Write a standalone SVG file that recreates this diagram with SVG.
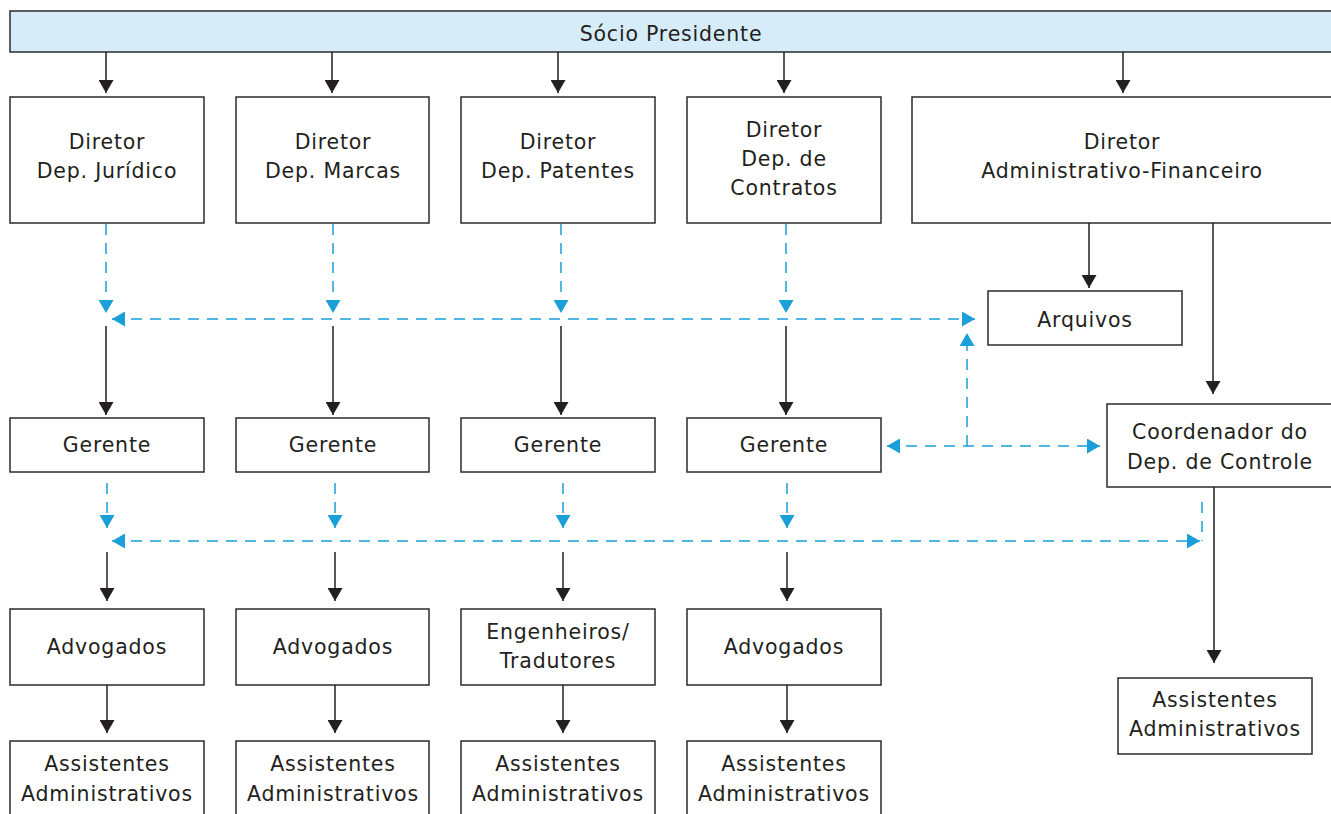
<svg xmlns="http://www.w3.org/2000/svg" width="1331" height="814" viewBox="0 0 1331 814">
<style>
  .box{fill:#fff;stroke:#2b2b2b;stroke-width:1.5}
  .top{fill:#d6ecf8;stroke:#2b2b2b;stroke-width:1.5}
  text{font-family:"DejaVu Sans","Liberation Sans",sans-serif;font-size:20.5px;fill:#231f20;text-anchor:middle;letter-spacing:0.8px}
  .ln{stroke:#231f20;stroke-width:1.5;fill:none}
  .dl{stroke:#1a9fd9;stroke-width:1.5;fill:none;stroke-dasharray:11 8}
</style>
<defs>
  <marker id="ab" viewBox="0 0 13 15" refX="13" refY="7.5" markerWidth="13" markerHeight="15" orient="auto" markerUnits="userSpaceOnUse">
    <path d="M0,0 L13,7.5 L0,15 z" fill="#231f20"/>
  </marker>
  <marker id="bb" viewBox="0 0 13 15" refX="13" refY="7.5" markerWidth="13" markerHeight="15" orient="auto-start-reverse" markerUnits="userSpaceOnUse">
    <path d="M0,0 L13,7.5 L0,15 z" fill="#1a9fd9"/>
  </marker>
</defs>

<g id="socio">
  <rect class="top" x="10" y="11" width="1330" height="41"/>
  <text x="671" y="41">Sócio Presidente</text>
</g>

<g id="dir1"><rect class="box" x="10" y="97" width="194" height="126"/><text x="107" y="149">Diretor</text><text x="107" y="178">Dep. Jurídico</text></g>
<g id="dir2"><rect class="box" x="236" y="97" width="193" height="126"/><text x="333" y="149">Diretor</text><text x="333" y="178">Dep. Marcas</text></g>
<g id="dir3"><rect class="box" x="461" y="97" width="194" height="126"/><text x="558" y="149">Diretor</text><text x="558" y="178">Dep. Patentes</text></g>
<g id="dir4"><rect class="box" x="687" y="97" width="194" height="126"/><text x="784" y="137">Diretor</text><text x="784" y="166">Dep. de</text><text x="784" y="195">Contratos</text></g>
<g id="dir5"><rect class="box" x="912" y="97" width="430" height="126"/><text x="1122" y="149">Diretor</text><text x="1122" y="178">Administrativo-Financeiro</text></g>

<g id="arquivos"><rect class="box" x="988" y="291" width="194" height="54"/><text x="1085" y="327">Arquivos</text></g>
<g id="coord"><rect class="box" x="1107" y="404" width="240" height="83"/><text x="1220" y="439">Coordenador do</text><text x="1220" y="469">Dep. de Controle</text></g>

<g id="ger1"><rect class="box" x="10" y="418" width="194" height="54"/><text x="107" y="452">Gerente</text></g>
<g id="ger2"><rect class="box" x="236" y="418" width="193" height="54"/><text x="333" y="452">Gerente</text></g>
<g id="ger3"><rect class="box" x="461" y="418" width="194" height="54"/><text x="558" y="452">Gerente</text></g>
<g id="ger4"><rect class="box" x="687" y="418" width="194" height="54"/><text x="784" y="452">Gerente</text></g>

<g id="adv1"><rect class="box" x="10" y="609" width="194" height="76"/><text x="107" y="654">Advogados</text></g>
<g id="adv2"><rect class="box" x="236" y="609" width="193" height="76"/><text x="333" y="654">Advogados</text></g>
<g id="eng3"><rect class="box" x="461" y="609" width="194" height="76"/><text x="558" y="639">Engenheiros/</text><text x="558" y="668">Tradutores</text></g>
<g id="adv4"><rect class="box" x="687" y="609" width="194" height="76"/><text x="784" y="654">Advogados</text></g>

<g id="ass1"><rect class="box" x="10" y="741" width="194" height="90"/><text x="107" y="771">Assistentes</text><text x="107" y="801">Administrativos</text></g>
<g id="ass2"><rect class="box" x="236" y="741" width="193" height="90"/><text x="333" y="771">Assistentes</text><text x="333" y="801">Administrativos</text></g>
<g id="ass3"><rect class="box" x="461" y="741" width="194" height="90"/><text x="558" y="771">Assistentes</text><text x="558" y="801">Administrativos</text></g>
<g id="ass4"><rect class="box" x="687" y="741" width="194" height="90"/><text x="784" y="771">Assistentes</text><text x="784" y="801">Administrativos</text></g>
<g id="ass5"><rect class="box" x="1118" y="678" width="194" height="76"/><text x="1215" y="707">Assistentes</text><text x="1215" y="736">Administrativos</text></g>

<g id="connectors">
  <line class="ln" x1="106" y1="52" x2="106" y2="93" marker-end="url(#ab)"/>
  <line class="ln" x1="332" y1="52" x2="332" y2="93" marker-end="url(#ab)"/>
  <line class="ln" x1="558" y1="52" x2="558" y2="93" marker-end="url(#ab)"/>
  <line class="ln" x1="784" y1="52" x2="784" y2="93" marker-end="url(#ab)"/>
  <line class="ln" x1="1123" y1="52" x2="1123" y2="93" marker-end="url(#ab)"/>

  <line class="dl" x1="106" y1="224" x2="106" y2="313" marker-end="url(#bb)"/>
  <line class="dl" x1="333" y1="224" x2="333" y2="313" marker-end="url(#bb)"/>
  <line class="dl" x1="561" y1="224" x2="561" y2="313" marker-end="url(#bb)"/>
  <line class="dl" x1="786" y1="224" x2="786" y2="313" marker-end="url(#bb)"/>
  <line class="dl" x1="112" y1="319" x2="975" y2="319" marker-start="url(#bb)" marker-end="url(#bb)"/>

  <line class="ln" x1="106" y1="326" x2="106" y2="415" marker-end="url(#ab)"/>
  <line class="ln" x1="333" y1="326" x2="333" y2="415" marker-end="url(#ab)"/>
  <line class="ln" x1="561" y1="326" x2="561" y2="415" marker-end="url(#ab)"/>
  <line class="ln" x1="786" y1="326" x2="786" y2="415" marker-end="url(#ab)"/>

  <line class="ln" x1="1089" y1="223" x2="1089" y2="288" marker-end="url(#ab)"/>
  <line class="ln" x1="1213" y1="223" x2="1213" y2="394" marker-end="url(#ab)"/>

  <path class="dl" d="M967,446 V333" marker-end="url(#bb)"/>
  <line class="dl" x1="887" y1="446" x2="1100" y2="446" marker-start="url(#bb)" marker-end="url(#bb)"/>

  <line class="dl" x1="107" y1="483" x2="107" y2="528" marker-end="url(#bb)"/>
  <line class="dl" x1="335" y1="483" x2="335" y2="528" marker-end="url(#bb)"/>
  <line class="dl" x1="563" y1="483" x2="563" y2="528" marker-end="url(#bb)"/>
  <line class="dl" x1="787" y1="483" x2="787" y2="528" marker-end="url(#bb)"/>
  <line class="dl" x1="112" y1="541" x2="1200" y2="541" marker-start="url(#bb)" marker-end="url(#bb)"/>
  <line class="dl" x1="1202" y1="502" x2="1202" y2="541"/>

  <line class="ln" x1="107" y1="552" x2="107" y2="601" marker-end="url(#ab)"/>
  <line class="ln" x1="335" y1="552" x2="335" y2="601" marker-end="url(#ab)"/>
  <line class="ln" x1="563" y1="552" x2="563" y2="601" marker-end="url(#ab)"/>
  <line class="ln" x1="787" y1="552" x2="787" y2="601" marker-end="url(#ab)"/>

  <line class="ln" x1="107" y1="685" x2="107" y2="733" marker-end="url(#ab)"/>
  <line class="ln" x1="335" y1="685" x2="335" y2="733" marker-end="url(#ab)"/>
  <line class="ln" x1="563" y1="685" x2="563" y2="733" marker-end="url(#ab)"/>
  <line class="ln" x1="787" y1="685" x2="787" y2="733" marker-end="url(#ab)"/>

  <line class="ln" x1="1214" y1="487" x2="1214" y2="663" marker-end="url(#ab)"/>
</g>
</svg>
